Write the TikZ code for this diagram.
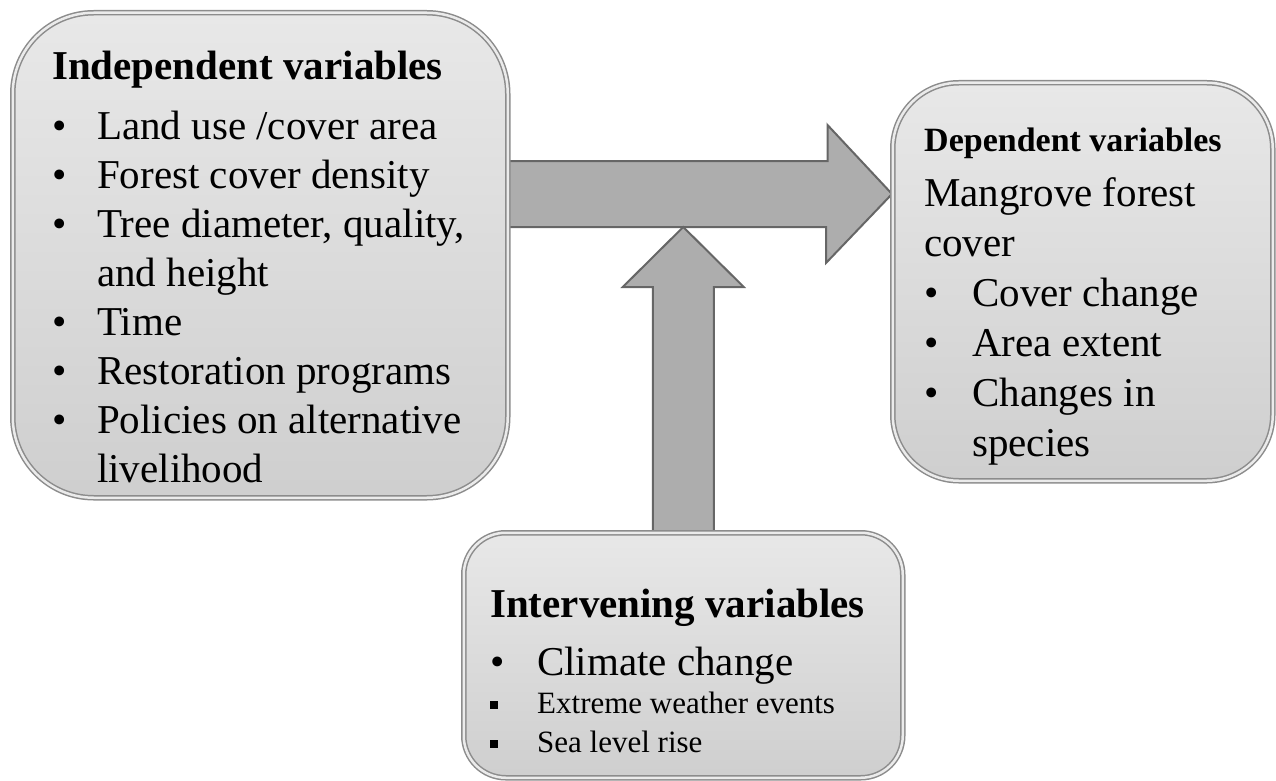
\documentclass[tikz,border=0pt]{standalone}
\usepackage{fontspec}
\setmainfont{Liberation Serif}
\usetikzlibrary{positioning,backgrounds}

\newcommand{\bul}[1][45pt]{\makebox[#1][l]{\textbullet}}
\newcommand{\sqb}{\makebox[47pt][l]{\raisebox{5pt}{\rule{8pt}{8pt}}}}

\begin{document}
\begin{tikzpicture}[x=1pt, y=-1pt,
  box/.style = {draw=black!45, line width=1.5pt, double=black!8, double distance=2.5pt, top color=black!9, bottom color=black!19, anchor=north west, inner sep=0pt},
  txt/.style = {align=left, inner sep=0pt, anchor=north west, font=\fontsize{41}{50}\selectfont},
  blk/.style = {draw=black!60, line width=2pt, fill=black!32, line join=miter}]
	\useasboundingbox (0,0) rectangle (1276,781);
	\node[box, minimum width=495pt, minimum height=485pt, rounded corners=81pt] (1) at (12,12) {};
	\node[box, minimum width=380pt, minimum height=398pt, rounded corners=66pt] (2) at (892,82) {};
	\node[box, minimum width=439pt, minimum height=245pt, rounded corners=42pt] (3) at (463,532) {};
	\node[txt, font=\fontsize{41}{49}\selectfont, below right=39pt and 40pt of 1.north west] (t1) {{\bfseries Independent variables}\\[11pt] \bul Land use /cover area\\ \bul Forest cover density\\ \bul Tree diameter, quality,\\ \hspace*{45pt}and height\\ \bul Time\\ \bul Restoration programs\\ \bul Policies on alternative\\ \hspace*{45pt}livelihood};
	\node[txt, below right=46pt and 32pt of 2.north west] (t2) {{\fontsize{34}{40}\selectfont\bfseries Dependent variables}\\[5pt] Mangrove forest\\ cover\\ \bul[48pt]Cover change\\ \bul[48pt]Area extent\\ \bul[48pt]Changes in\\ \hspace*{48pt}species};
	\node[txt, below right=57pt and 27pt of 3.north west] (t3) {{\bfseries Intervening variables}\\[8pt] \bul[47pt]Climate change\\[-12pt] {\fontsize{31}{36}\selectfont\sqb Extreme weather events}\\[-11pt] {\fontsize{31}{36}\selectfont\sqb Sea level rise}};
	\begin{scope}[on background layer]
	\path (1.north east) ++(0,182) coordinate (h);
	\draw[blk] (h) ++(0,-33) -- ++(319,0) -- ++(0,-36) -- (h -| 2.west) -- ++(-66,69) -- ++(0,-36) -- ++(-319,0) coordinate (hb) -- cycle;
	\draw[blk] (3.north) ++(-30.5,0) -- ++(0,-245) -- ++(-30,0) -- (3.north |- hb) -- ++(60.5,60) -- ++(-30,0) -- ++(0,245) -- cycle;
	\end{scope}
\end{tikzpicture}
\end{document}
